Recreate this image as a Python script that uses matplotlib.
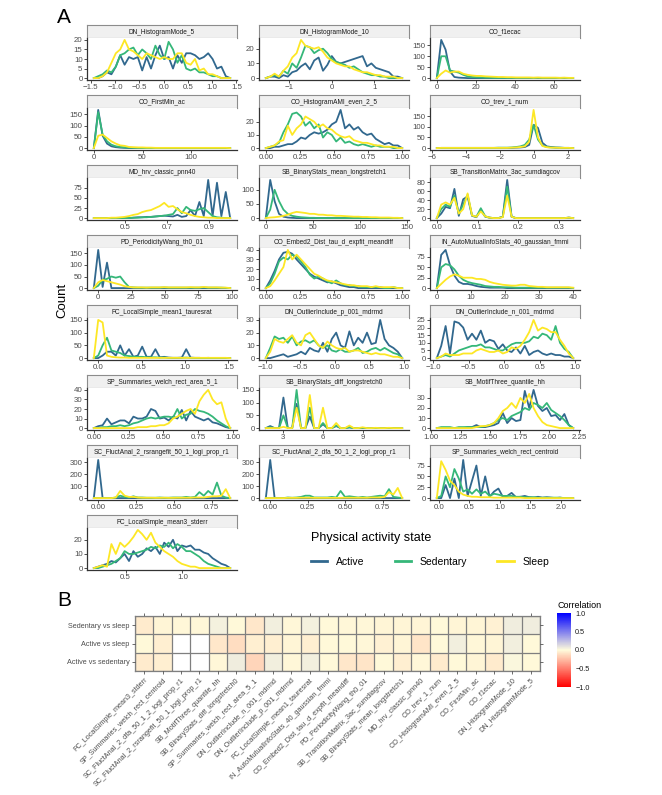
import numpy as np
import matplotlib
matplotlib.use("Agg")
import matplotlib.pyplot as plt
from matplotlib.colors import LinearSegmentedColormap, Normalize
from matplotlib.cm import ScalarMappable
from matplotlib.lines import Line2D

plt.rcParams['font.family'] = ['Liberation Sans', 'DejaVu Sans']

W, H = 662, 795
fig = plt.figure(figsize=(W / 100, H / 100), dpi=100)


def px_axes(x0, y0, w, h):
    return fig.add_axes([x0 / W, 1 - (y0 + h) / H, w / W, h / H])


# ---------------- Panel A data (frequency polygons, counts per bin) ----------------
states = ["Active", "Sedentary", "Sleep"]
state_colors = ["#31688E", "#35B779", "#FDE725"]

hm5_range = (-1.44, 1.37)
hm5_active = [0,0,1,3,2,6,12,7,11,10,11,4,11,5,12,17,10,11,5,12,8,13,13,12,10,11,13,10,5,6,1,0]
hm5_sed = [0,1,2,4,3,6,12,13,15,16,12,15,13,10,17,12,10,19,15,8,12,5,4,5,3,3,2,1,1,0,0,0]
hm5_sleep = [0,0,1,3,8,13,15,20,15,14,12,10,13,12,11,10,11,10,10,13,13,8,7,10,4,5,2,2,1,0,0,0]

hm10_range = (-1.55, 1.65)
hm10_active = [0,1,1,0,2,1,4,5,8,10,6,12,14,5,9,15,11,10,11,12,13,14,15,8,10,7,6,5,4,1,1,0]
hm10_sed = [0,1,2,1,5,3,10,7,14,22,21,17,19,20,17,13,11,10,9,7,8,6,4,3,2,2,1,1,0,0,0,0]
hm10_sleep = [0,1,3,1,5,8,14,17,26,22,21,20,21,18,14,12,10,9,8,8,6,5,4,4,3,2,2,1,1,1,0,0]

f1e_range = (0, 69.6)
f1e_active = [0,175,130,30,5,2,1,0,0,0,0,0,0,0,0,0,0,0,0,0,0,0,0,0,0,0,0,0,0,0,0,0]
f1e_sed = [0,100,100,35,30,25,15,8,5,4,3,2,2,1,1,1,1,1,1,1,1,1,1,1,1,1,1,1,1,1,0,0]
f1e_sleep = [0,20,35,25,30,30,20,15,12,10,10,8,7,6,5,5,4,4,3,3,3,3,2,3,2,2,2,2,1,2,1,1]

fmin_range = (0, 140)
fmin_active = [0,170,55,20,8,4,2,1,0,0,0,0,0,0,0,0,0,0,0,0,0,0,0,0,0,0,0,0,0,0,0,0]
fmin_sed = [0,160,60,30,15,8,5,3,2,1,1,0,0,0,0,0,0,0,0,0,0,0,0,0,0,0,0,0,0,0,0,0]
fmin_sleep = [0,55,60,45,30,20,12,10,5,4,3,3,2,2,1,1,1,1,1,1,1,1,1,1,1,1,1,1,1,1,1,0]

ami_range = (0, 1.0)
ami_active = [0,0,1,1,2,3,3,5,8,7,10,12,11,12,14,18,20,29,15,18,14,16,12,10,11,7,5,3,4,2,2,0]
ami_sed = [0,1,2,4,12,18,26,27,24,17,20,15,18,8,12,10,5,8,4,5,3,2,3,2,1,2,1,1,1,0,0,0]
ami_sleep = [0,1,2,5,6,17,10,15,18,24,22,20,16,18,15,14,11,9,8,9,6,5,4,4,3,2,2,1,1,1,0,0]

trev_range = (-5.7, 2.3)
trev_active = [0,1,1,1,1,1,1,1,1,1,1,1,1,1,1,1,1,1,2,3,5,15,110,95,25,8,5,3,2,1,1,0]
trev_sed = [0,1,1,1,1,1,1,1,1,1,1,1,1,1,2,2,2,3,5,8,15,40,110,40,12,5,3,2,2,1,1,0]
trev_sleep = [0,1,1,1,1,1,1,1,1,1,1,1,1,1,1,1,1,2,3,5,8,30,180,50,10,4,2,2,1,1,1,0]

pnn_range = (0.35, 1.0)
pnn_active = [0,0,0,0,0,0,0,0,0,1,2,2,3,3,4,5,6,5,4,8,3,5,20,5,40,5,95,5,88,5,65,0]
pnn_sed = [0,0,0,0,0,0,0,0,0,1,1,2,2,3,4,5,6,8,10,25,12,28,20,18,22,25,15,5,2,1,0,0]
pnn_sleep = [0,0,0,0,1,1,2,3,5,8,10,15,18,20,25,30,38,28,30,22,15,12,8,5,3,2,1,1,0,0,0,0]

ls1_range = (0, 145)
ls1_active = [0,135,60,15,5,2,1,0,0,0,0,0,0,0,0,0,0,0,0,0,0,0,0,0,0,0,0,0,0,0,0,0]
ls1_sed = [0,30,100,60,30,15,8,5,3,2,1,1,0,0,0,0,0,0,0,0,0,0,0,0,0,0,0,0,0,0,0,0]
ls1_sleep = [0,2,3,5,8,12,18,22,20,18,15,15,12,12,10,10,8,8,7,6,5,5,4,4,3,3,2,2,2,1,1,0]

tm_range = (0, 0.335)
tm_active = [0,10,25,22,65,5,42,48,5,2,18,3,1,0,0,3,85,3,0,0,0,0,0,0,0,0,0,0,0,0,1,0]
tm_sed = [0,20,30,25,50,10,30,52,6,3,22,4,1,0,0,3,70,3,0,0,0,0,0,0,0,0,0,0,0,0,1,0]
tm_sleep = [0,30,35,30,45,10,20,55,6,3,15,4,1,0,0,2,50,3,0,0,0,0,0,0,0,0,0,0,0,0,1,0]

pw_range = (-3.3, 99)
pw_active = [0,165,5,110,0,0,0,0,0,0,0,0,0,0,0,0,0,0,0,0,0,0,0,0,0,0,0,0,0,0,0,0]
pw_sed = [0,10,35,40,50,45,50,25,5,3,2,2,2,2,2,2,3,2,2,2,2,2,2,2,2,3,2,2,2,2,1,0]
pw_sleep = [0,25,35,30,25,20,15,8,5,3,3,3,2,3,3,3,4,3,3,3,3,3,4,3,3,5,3,3,3,2,2,0]

emb_range = (0, 1.0)
emb_active = [0,8,18,30,37,38,36,30,25,20,15,12,10,8,6,7,5,3,2,1,1,0,0,0,0,0,0,0,0,0,0,0]
emb_sed = [0,5,15,28,32,30,35,33,28,22,14,10,12,10,7,5,8,5,3,3,2,2,1,1,1,1,1,0,0,1,0,0]
emb_sleep = [0,2,8,15,22,40,30,35,30,25,20,15,13,10,8,7,6,5,4,3,3,2,2,2,1,2,1,1,1,1,0,0]

fmmi_range = (0, 40)
fmmi_active = [0,80,92,55,30,15,10,10,8,5,3,2,1,1,1,1,0,0,0,0,0,0,0,0,0,0,0,0,0,0,0,0]
fmmi_sed = [0,50,58,55,45,30,20,15,12,10,8,5,4,3,3,2,2,2,1,1,1,1,1,1,1,1,1,1,1,1,1,0]
fmmi_sleep = [0,10,20,28,33,30,25,25,25,22,22,20,15,12,10,8,7,6,6,8,8,5,4,3,3,2,2,2,2,2,2,1]

tau_range = (-0.05, 1.52)
tau_active = [0,0,10,25,25,10,50,10,35,5,10,45,5,5,35,3,5,2,1,1,2,35,2,1,1,0,1,0,0,0,0,0]
tau_sed = [0,10,50,80,30,25,20,10,8,5,5,5,3,3,3,2,2,1,1,1,1,2,1,0,0,0,0,0,0,0,0,0]
tau_sleep = [0,150,140,10,5,3,2,2,1,1,1,1,1,1,1,1,1,1,1,1,1,1,1,1,1,1,1,1,1,1,1,0]

op_range = (-1.0, 0.97)
op_active = [0,0,1,2,3,1,2,3,5,3,8,6,5,12,5,15,20,10,8,21,10,16,12,20,11,12,30,15,10,8,5,0]
op_sed = [0,8,17,15,16,12,17,10,13,14,12,14,10,8,10,6,5,7,5,5,6,8,4,5,7,8,6,8,6,4,3,0]
op_sleep = [0,5,15,13,12,15,18,12,10,18,20,15,10,8,13,10,8,7,8,5,6,6,5,4,3,4,3,3,2,1,1,0]

on_range = (-0.95, 0.97)
on_active = [0,8,21,3,24,23,20,12,16,12,18,10,12,11,6,9,5,4,7,3,8,2,4,5,3,2,3,2,2,1,1,0]
on_sed = [0,1,2,1,3,5,6,7,8,8,9,7,7,6,5,5,7,9,10,10,10,11,14,13,16,15,12,21,10,6,4,0]
on_sleep = [0,1,3,2,2,2,3,3,3,5,6,5,4,4,5,3,4,7,6,8,12,17,25,18,20,19,17,17,12,8,3,0]

area_range = (0, 0.98)
area_active = [0,2,3,10,4,6,8,8,5,12,10,10,12,20,18,10,11,8,12,10,19,8,18,12,10,8,10,6,5,3,1,0]
area_sed = [0,0,1,1,2,2,3,2,3,5,6,8,10,11,10,11,12,12,11,20,10,14,15,20,18,17,15,12,8,5,2,0]
area_sleep = [0,0,0,0,0,0,0,0,0,0,1,1,1,2,2,3,3,5,10,12,15,18,20,15,28,35,40,30,25,27,10,0]

ls0_range = (1.667, 12.0)
ls0_active = [0,8,0,0,120,0,0,95,0,0,45,0,0,15,0,0,8,0,0,3,0,0,0,0,0,0,0,0,0,0,0,0]
ls0_sed = [0,3,0,0,50,0,0,150,0,0,80,0,0,20,0,0,10,0,0,3,0,0,1,0,0,0,0,0,0,0,0,0]
ls0_sleep = [0,0,0,0,5,0,0,80,0,0,130,0,0,80,0,0,20,0,0,10,0,0,3,0,0,1,0,0,1,0,0,0]

hh_range = (1.05, 2.2)
hh_active = [0,0,0,0,0,0,0,1,1,3,1,1,2,3,5,15,5,10,7,8,37,20,38,22,17,20,12,13,8,14,3,0]
hh_sed = [0,1,1,1,0,1,1,1,1,1,1,2,3,5,8,10,8,12,14,16,20,18,25,23,20,25,18,15,12,8,3,0]
hh_sleep = [0,0,0,0,0,0,0,0,0,1,2,2,3,5,10,17,20,25,20,30,25,34,20,12,6,3,2,1,0,0,0,0]

rs_range = (-0.028, 0.871)
rs_active = [0,320,0,0,0,0,0,0,0,0,0,0,0,0,0,0,0,0,0,0,0,0,0,0,0,0,0,0,0,0,0,0]
rs_sed = [0,0,0,0,0,5,20,10,5,15,5,5,3,3,3,5,3,3,5,5,5,10,5,10,50,20,60,30,130,20,5,0]
rs_sleep = [0,0,0,0,0,5,60,20,10,10,5,3,3,3,2,2,3,2,2,3,3,3,3,5,5,5,10,15,15,20,75,0]

dfa_range = (-0.028, 0.88)
dfa_active = [0,320,0,0,0,0,0,0,0,0,0,0,0,0,0,0,0,0,0,0,0,0,0,0,0,0,0,0,0,0,0,0]
dfa_sed = [0,0,0,0,0,5,3,5,10,20,20,5,5,5,5,10,5,60,10,15,10,5,10,5,10,15,20,15,75,10,5,0]
dfa_sleep = [0,0,0,0,0,2,2,2,3,3,3,2,2,2,2,2,2,2,3,3,3,3,3,3,5,5,5,10,50,30,85,0]

cen_range = (-0.03, 2.2)
cen_active = [0,0,30,0,45,0,88,5,40,75,5,50,3,15,22,3,5,12,2,3,5,2,1,3,1,2,1,0,1,0,0,0]
cen_sed = [0,5,50,25,67,45,15,20,10,20,10,15,5,10,8,5,5,5,3,3,2,2,2,1,1,1,1,1,1,0,0,0]
cen_sleep = [0,85,65,40,30,15,8,5,3,3,2,2,2,1,1,1,1,1,1,1,0,0,0,0,0,0,0,0,0,0,0,0]

se_range = (0.22, 1.42)
se_active = [0,1,2,3,5,4,7,10,5,12,8,10,14,12,15,10,18,15,20,12,16,15,16,13,13,11,10,7,5,3,2,0]
se_sed = [0,0,1,2,3,5,7,12,10,10,11,12,13,15,14,16,15,18,14,17,15,12,12,10,8,5,3,2,1,0,0,0]
se_sleep = [0,1,2,1,17,10,18,15,18,22,27,24,20,25,18,15,12,10,8,5,3,2,1,1,0,0,0,0,0,0,0,0]

# tick labels per facet
t_hm5 = (["−1.5", "−1.0", "−0.5", "0.0", "0.5", "1.0", "1.5"], ["0", "5", "10", "15", "20"])
t_hm10 = (["−1", "0", "1"], ["0", "10", "20"])
t_f1e = (["0", "20", "40", "60"], ["0", "50", "100", "150"])
t_fmin = (["0", "50", "100"], ["0", "50", "100", "150"])
t_ami = (["0.00", "0.25", "0.50", "0.75", "1.00"], ["0", "10", "20"])
t_trev = (["−6", "−4", "−2", "0", "2"], ["0", "50", "100", "150"])
t_pnn = (["0.5", "0.7", "0.9"], ["0", "25", "50", "75"])
t_ls1 = (["0", "50", "100", "150"], ["0", "50", "100"])
t_tm = (["0.0", "0.1", "0.2", "0.3"], ["0", "20", "40", "60", "80"])
t_pw = (["0", "25", "50", "75", "100"], ["0", "50", "100", "150"])
t_emb = (["0.00", "0.25", "0.50", "0.75", "1.00"], ["0", "10", "20", "30", "40"])
t_fmmi = (["0", "10", "20", "30", "40"], ["0", "25", "50", "75"])
t_tau = (["0.0", "0.5", "1.0", "1.5"], ["0", "50", "100", "150"])
t_op = (["−1.0", "−0.5", "0.0", "0.5", "1.0"], ["0", "10", "20", "30"])
t_on = (["−1.0", "−0.5", "0.0", "0.5", "1.0"], ["0", "5", "10", "15", "20", "25"])
t_area = (["0.00", "0.25", "0.50", "0.75", "1.00"], ["0", "10", "20", "30", "40"])
t_ls0 = (["3", "6", "9"], ["0", "50", "100", "150"])
t_hh = (["1.00", "1.25", "1.50", "1.75", "2.00", "2.25"], ["0", "10", "20", "30"])
t_rs = (["0.00", "0.25", "0.50", "0.75"], ["0", "100", "200", "300"])
t_dfa = (["0.00", "0.25", "0.50", "0.75"], ["0", "100", "200", "300"])
t_cen = (["0.0", "0.5", "1.0", "1.5", "2.0"], ["0", "25", "50", "75"])
t_se = (["0.5", "1.0"], ["0", "10", "20"])

panels = [
    ("DN_HistogramMode_5", hm5_range, t_hm5, hm5_active, hm5_sed, hm5_sleep),
    ("DN_HistogramMode_10", hm10_range, t_hm10, hm10_active, hm10_sed, hm10_sleep),
    ("CO_f1ecac", f1e_range, t_f1e, f1e_active, f1e_sed, f1e_sleep),
    ("CO_FirstMin_ac", fmin_range, t_fmin, fmin_active, fmin_sed, fmin_sleep),
    ("CO_HistogramAMI_even_2_5", ami_range, t_ami, ami_active, ami_sed, ami_sleep),
    ("CO_trev_1_num", trev_range, t_trev, trev_active, trev_sed, trev_sleep),
    ("MD_hrv_classic_pnn40", pnn_range, t_pnn, pnn_active, pnn_sed, pnn_sleep),
    ("SB_BinaryStats_mean_longstretch1", ls1_range, t_ls1, ls1_active, ls1_sed, ls1_sleep),
    ("SB_TransitionMatrix_3ac_sumdiagcov", tm_range, t_tm, tm_active, tm_sed, tm_sleep),
    ("PD_PeriodicityWang_th0_01", pw_range, t_pw, pw_active, pw_sed, pw_sleep),
    ("CO_Embed2_Dist_tau_d_expfit_meandiff", emb_range, t_emb, emb_active, emb_sed, emb_sleep),
    ("IN_AutoMutualInfoStats_40_gaussian_fmmi", fmmi_range, t_fmmi, fmmi_active, fmmi_sed, fmmi_sleep),
    ("FC_LocalSimple_mean1_tauresrat", tau_range, t_tau, tau_active, tau_sed, tau_sleep),
    ("DN_OutlierInclude_p_001_mdrmd", op_range, t_op, op_active, op_sed, op_sleep),
    ("DN_OutlierInclude_n_001_mdrmd", on_range, t_on, on_active, on_sed, on_sleep),
    ("SP_Summaries_welch_rect_area_5_1", area_range, t_area, area_active, area_sed, area_sleep),
    ("SB_BinaryStats_diff_longstretch0", ls0_range, t_ls0, ls0_active, ls0_sed, ls0_sleep),
    ("SB_MotifThree_quantile_hh", hh_range, t_hh, hh_active, hh_sed, hh_sleep),
    ("SC_FluctAnal_2_rsrangefit_50_1_logi_prop_r1", rs_range, t_rs, rs_active, rs_sed, rs_sleep),
    ("SC_FluctAnal_2_dfa_50_1_2_logi_prop_r1", dfa_range, t_dfa, dfa_active, dfa_sed, dfa_sleep),
    ("SP_Summaries_welch_rect_centroid", cen_range, t_cen, cen_active, cen_sed, cen_sleep),
    ("FC_LocalSimple_mean3_stderr", se_range, t_se, se_active, se_sed, se_sleep),
]

# ---------------- Panel B data (correlations) ----------------
features_b = [
    "FC_LocalSimple_mean3_stderr", "SP_Summaries_welch_rect_centroid",
    "SC_FluctAnal_2_dfa_50_1_2_logi_prop_r1", "SC_FluctAnal_2_rsrangefit_50_1_logi_prop_r1",
    "SB_MotifThree_quantile_hh", "SB_BinaryStats_diff_longstretch0",
    "SP_Summaries_welch_rect_area_5_1", "DN_OutlierInclude_n_001_mdrmd",
    "DN_OutlierInclude_p_001_mdrmd", "FC_LocalSimple_mean1_tauresrat",
    "IN_AutoMutualInfoStats_40_gaussian_fmmi", "CO_Embed2_Dist_tau_d_expfit_meandiff",
    "PD_PeriodicityWang_th0_01", "SB_TransitionMatrix_3ac_sumdiagcov",
    "SB_BinaryStats_mean_longstretch1", "MD_hrv_classic_pnn40", "CO_trev_1_num",
    "CO_HistogramAMI_even_2_5", "CO_FirstMin_ac", "CO_f1ecac",
    "DN_HistogramMode_10", "DN_HistogramMode_5",
]
comparisons = ["Active vs sedentary", "Active vs sleep", "Sedentary vs sleep"]
nan = np.nan
corr_active_sedentary = [-0.07, -0.05, nan, nan, -0.02, 0.06, -0.15, 0.05, -0.02, 0.05, -0.01,
                         -0.08, -0.09, -0.01, -0.05, -0.02, -0.07, -0.01, -0.03, -0.07, 0.02, -0.01]
corr_active_sleep = [-0.01, -0.05, nan, nan, -0.08, -0.12, -0.05, -0.05, -0.03, -0.05, -0.01,
                     -0.01, -0.02, -0.04, -0.03, -0.09, -0.01, 0.05, -0.02, -0.03, 0.05, -0.01]
corr_sedentary_sleep = [-0.07, -0.03, -0.02, -0.02, 0.04, -0.01, -0.08, 0.05, -0.02, 0.04, -0.01,
                        -0.02, -0.02, -0.03, -0.03, -0.03, -0.01, -0.03, -0.03, -0.04, 0.06, 0.06]

# ---------------- Draw panel A ----------------
TXT = '#4D4D4D'
AXC = '#333333'
col_x = [87, 259, 430]
panel_w = 150
strip_h = 13
plot_h = 42
row_top0 = 25
row_step = 70


def num(s):
    return float(s.replace('−', '-'))


for k, (title, xr, ticks, ya, ys, yl) in enumerate(panels):
    r, c = divmod(k, 3)
    x0 = col_x[c]
    top = row_top0 + r * row_step
    st = px_axes(x0, top, panel_w, strip_h)
    st.set_facecolor('#F0F0F0')
    st.set_xticks([])
    st.set_yticks([])
    for sp in st.spines.values():
        sp.set_color('#8C8C8C')
        sp.set_linewidth(0.8)
    st.text(0.5, 0.45, title, ha='center', va='center', fontsize=4.7,
            color='#1A1A1A', transform=st.transAxes)

    ax = px_axes(x0, top + strip_h, panel_w, plot_h)
    x = np.linspace(xr[0], xr[1], len(ya))
    for y, colr in zip((ya, ys, yl), state_colors):
        ax.plot(x, y, color=colr, lw=1.3, solid_joinstyle='round')
    ymax = max(max(ya), max(ys), max(yl))
    span = xr[1] - xr[0]
    ax.set_xlim(xr[0] - 0.05 * span, xr[1] + 0.05 * span)
    ax.set_ylim(-0.05 * ymax, 1.05 * ymax)
    xt, yt = ticks
    ax.set_xticks([num(s) for s in xt])
    ax.set_xticklabels(xt)
    ax.set_yticks([num(s) for s in yt])
    ax.set_yticklabels(yt)
    for side in ('top', 'right'):
        ax.spines[side].set_visible(False)
    for side in ('left', 'bottom'):
        ax.spines[side].set_color(AXC)
        ax.spines[side].set_linewidth(0.9)
    ax.tick_params(length=2, width=0.6, color=AXC, labelsize=5.7,
                   labelcolor=TXT, pad=1.2)
    ax.set_facecolor('white')

fig.text(64 / W, 1 - 17.5 / H, 'A', fontsize=15, ha='center', va='center')
fig.text(62 / W, 1 - 300 / H, 'Count', fontsize=9.5, rotation=90,
         ha='center', va='center')

# legend
fig.text(311 / W, 1 - 538 / H, 'Physical activity state', fontsize=9,
         ha='left', va='center')
handles = [Line2D([0], [0], color=c, lw=2.0) for c in state_colors]
fig.legend(handles, states, loc='center left',
           bbox_to_anchor=(311 / W, 1 - 562 / H), ncol=3, frameon=False,
           borderpad=0, borderaxespad=0, handlelength=1.55,
           handletextpad=0.85, columnspacing=2.9, fontsize=7.5)

# ---------------- Draw panel B ----------------
fig.text(64 / W, 1 - 600 / H, 'B', fontsize=15, ha='center', va='center')

cmap = LinearSegmentedColormap.from_list(
    'corr', ['#FF0000', '#FFFCDC', '#0000FF'])
cmap.set_bad('white')
norm = Normalize(-1, 1)

Z = np.ma.masked_invalid(np.array([corr_active_sedentary, corr_active_sleep,
                                   corr_sedentary_sleep]))
hx = px_axes(135, 616, 405, 55)
hx.pcolormesh(np.arange(len(features_b) + 1), np.arange(len(comparisons) + 1),
              Z, cmap=cmap, norm=norm)
hx.set_xlim(0, len(features_b))
hx.set_ylim(0, len(comparisons))
hx.set_xticks(np.arange(len(features_b)) + 0.5)
hx.set_xticklabels(features_b, rotation=45, ha='right', va='top',
                   rotation_mode='anchor', fontsize=5.2, color=TXT)
hx.set_yticks(np.arange(len(comparisons)) + 0.5)
hx.set_yticklabels(comparisons, fontsize=5.2, color=TXT)
hx.set_xticks(np.arange(len(features_b) + 1), minor=True)
hx.set_yticks(np.arange(len(comparisons) + 1), minor=True)
hx.grid(which='minor', color='#7F7F7F', lw=0.9)
hx.set_axisbelow(False)
hx.tick_params(which='minor', length=0)
hx.tick_params(which='major', length=2, width=0.5, color=AXC, pad=2,
               top=True, right=True)
for sp in hx.spines.values():
    sp.set_color('#7F7F7F')
    sp.set_linewidth(0.9)

cax = px_axes(557, 613, 14, 74)
cb = fig.colorbar(ScalarMappable(norm=norm, cmap=cmap), cax=cax)
cb.outline.set_visible(False)
cb.set_ticks([-1, -0.5, 0, 0.5, 1])
cb.set_ticklabels(['−1.0', '−0.5', '0.0', '0.5', '1.0'])
cax.tick_params(length=0, labelsize=5.2, pad=3, labelcolor='#1A1A1A')
fig.text(557 / W, 1 - 605 / H, 'Correlation', fontsize=6.5, ha='left',
         va='center')

fig.savefig('out.png', dpi=100)
